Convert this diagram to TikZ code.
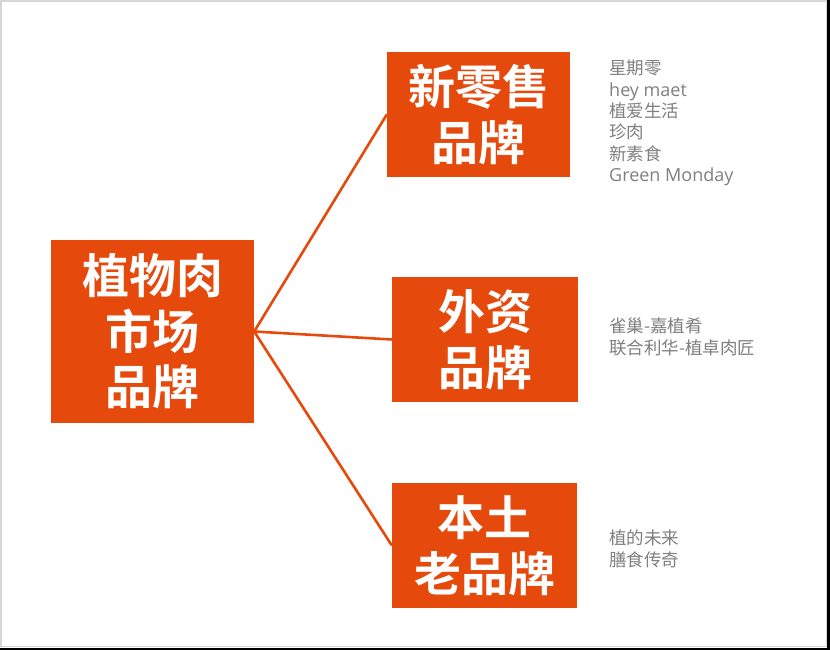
\documentclass[tikz,border=0pt]{standalone}
\usepackage{fontspec}
\setmainfont{Noto Sans CJK SC}
\newfontfamily\cjkbold{Noto Sans CJK SC Bold}
\newfontfamily\latinsans{Open Sans}
\definecolor{brandorange}{RGB}{229,74,12}
\definecolor{notegray}{RGB}{128,128,128}
\definecolor{framegray}{RGB}{214,214,214}
\begin{document}
\begin{tikzpicture}[x=1pt,y=-1pt,
  brandbox/.style={fill=brandorange, draw=none, inner sep=0pt, align=center,
    text=white, font=\cjkbold\fontsize{47}{55.5}\selectfont},
  link/.style={draw=brandorange, line width=2.6pt},
  note/.style={anchor=north west, inner sep=0pt, align=left, text=notegray,
    font=\fontsize{17.5}{21.4}\selectfont},
  latinpart/.style={}]
% frame
\fill[framegray] (0,0) rectangle (827,647);
\fill[white] (2,2) rectangle (825.5,645.5);
\fill[black] (827,0) rectangle (830,650);
\fill[black] (0,647.5) rectangle (830,650);
\useasboundingbox (0,0) rectangle (830,650);
% boxes
\node[brandbox, minimum width=203pt, minimum height=183pt] (L) at (152.5,331.5) {植物肉\\市场\\品牌};
\node[brandbox, minimum width=183pt, minimum height=125pt] (A) at (478.5,114.5) {新零售\\品牌};
\node[brandbox, minimum width=186pt, minimum height=125pt] (B) at (485,339.5) {外资\\品牌};
\node[brandbox, minimum width=185pt, minimum height=125pt] (C) at (484.5,545.5) {本土\\老品牌};
% connectors
\draw[link] (L.east) -- (A.west);
\draw[link] (L.east) -- (B.west);
\draw[link] (L.east) -- (C.west);
% notes
\node[note] (nA) at (609,60) {星期零\\{\latinsans\fontsize{18}{21.4}\selectfont hey maet}\\植爱生活\\珍肉\\新素食\\{\latinsans\fontsize{18}{21.4}\selectfont Green Monday}};
\node[note] (nB) at (609,318) {雀巢-嘉植肴\\联合利华-植卓肉匠};
\node[note] (nC) at (609,530) {植的未来\\膳食传奇};
\end{tikzpicture}
\end{document}
